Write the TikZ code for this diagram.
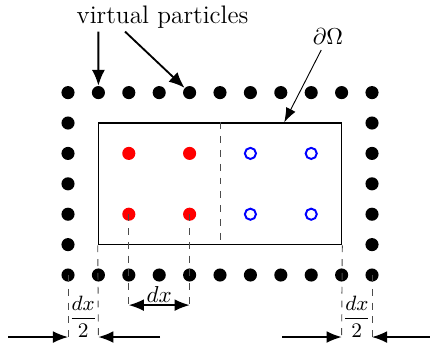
\documentclass[tikz,border=0pt]{standalone}
\usepackage{amsmath}
\usepackage{tikz}
\usetikzlibrary{arrows.meta,calc}

\begin{document}
\begin{tikzpicture}[x=0.464cm,y=0.464cm,
  vdot/.style={circle,fill=black,inner sep=0pt,minimum size=2mm},
  fdot/.style={circle,fill=red,inner sep=0pt,minimum size=2mm},
  odot/.style={circle,draw=blue,line width=0.85pt,inner sep=0pt,minimum size=1.7mm},
  dom/.style={draw,semithick,inner sep=0pt,minimum width=3.712cm,minimum height=1.856cm},
  guide/.style={dashed,draw=black!70},
  ptr/.style={-{Latex[length=2.4mm,width=2mm]},thick},
  thinptr/.style={-{Latex[length=2.2mm,width=1.6mm]}},
  dimarr/.style={-{Latex[length=2.3mm,width=1.8mm]},semithick},
  half/.style={font=\fontsize{8.6}{10}\selectfont,inner sep=1pt},
  lbl/.style={inner sep=1pt}]
  \useasboundingbox (-2.237,-2.368) rectangle (11.94,9.046);
  % domain
  \node[dom] (omega) at (5,3) {};
  \draw[guide] (omega.north) -- (omega.south);
  % virtual particles
  \foreach \x in {0,...,10} {
    \node[vdot] (v-\x-0) at (\x,0) {};
    \node[vdot] (v-\x-6) at (\x,6) {};
  }
  \foreach \y in {1,...,5} {
    \node[vdot] (v-0-\y) at (0,\y) {};
    \node[vdot] (v-10-\y) at (10,\y) {};
  }
  % real particles
  \foreach \x in {2,4}
    \foreach \y in {2,4}
      \node[fdot] (f-\x-\y) at (\x,\y) {};
  \foreach \x in {6,8}
    \foreach \y in {2,4}
      \node[odot] (o-\x-\y) at (\x,\y) {};
  % labels
  \node[lbl,anchor=base] (vp) at (3.11,8.26) {\fontsize{11}{13}\selectfont virtual particles};
  \node[inner sep=2pt] (dO) at (8.55,7.83) {$\partial\Omega$};
  \draw[ptr] ([xshift=-0.979cm]vp.south) -- (v-1-6);
  \draw[ptr] ([xshift=-0.573cm]vp.south) -- (v-4-6);
  \draw[thinptr] (dO) -- ($(omega.north west)!0.7625!(omega.north east)$);
  % dx
  \coordinate (a1) at (2,-0.99);
  \coordinate (a2) at (4,-0.99);
  \draw[guide] (f-2-2.center) -- (a1);
  \draw[guide] (f-4-2.center) -- (a2);
  \draw[{Latex[length=2.3mm,width=1.8mm]}-{Latex[length=2.3mm,width=1.8mm]},semithick] (a1) -- node[above,inner sep=1pt] (dxl) {$dx$} (a2);
  % dx/2 left
  \coordinate (l1) at (0,-2.04);
  \coordinate (l2) at (1,-2.04);
  \coordinate (l0) at (-1.97,-2.04);
  \coordinate (l3) at (3.03,-2.04);
  \draw[guide] (v-0-0.center) -- (l1);
  \draw[guide] (omega.south west) -- (l2);
  \draw[dimarr] (l0) -- (l1);
  \draw[dimarr] (l3) -- (l2);
  \node[half] (hl) at (0.5,-1.38) {$\dfrac{dx}{2}$};
  % dx/2 right
  \coordinate (r1) at (9,-2.04);
  \coordinate (r2) at (10,-2.04);
  \coordinate (r0) at (7.04,-2.04);
  \coordinate (r3) at (11.9,-2.04);
  \draw[guide] (omega.south east) -- (r1);
  \draw[guide] (v-10-0.center) -- (r2);
  \draw[dimarr] (r0) -- (r1);
  \draw[dimarr] (r3) -- (r2);
  \node[half] (hr) at (9.5,-1.38) {$\dfrac{dx}{2}$};
\end{tikzpicture}
\end{document}
